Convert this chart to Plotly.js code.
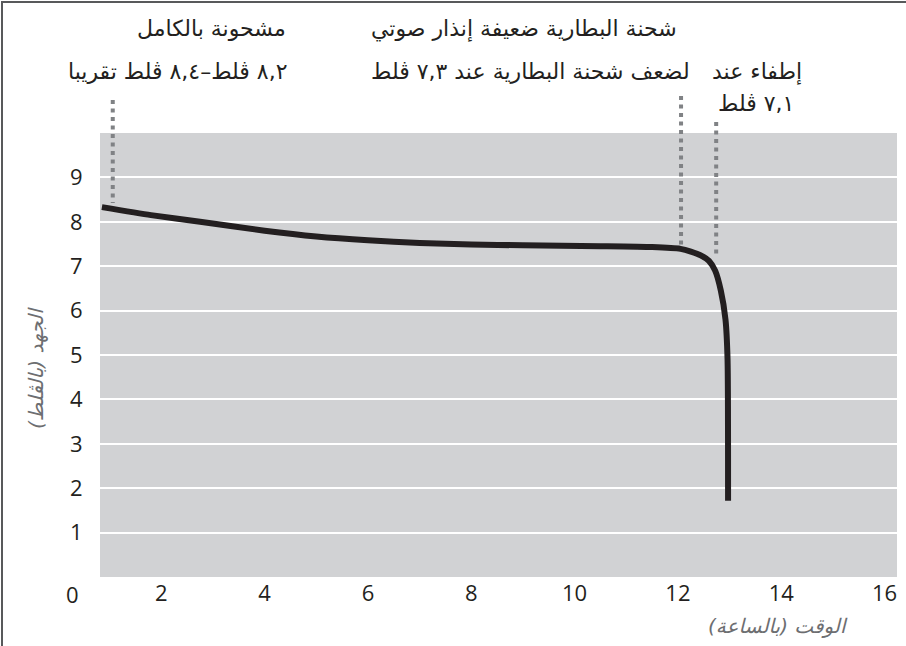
<!DOCTYPE html>
<html>
<head>
<meta charset="utf-8">
<script src="https://cdn.plot.ly/plotly-3.0.1.min.js"></script>
<style>html,body{margin:0;padding:0;background:#fff;}#chart{width:906px;height:646px;}</style>
</head>
<body>
<div id="chart"></div>
<script>
// ---- data ----
const timeHours = [0.85, 1.8, 2.75, 4.0, 5.0, 6.0, 7.0, 8.0, 9.0, 10.5, 11.5, 12.05, 12.25, 12.45, 12.6, 12.72, 12.83, 12.92, 12.96, 12.97];
const voltage   = [8.33, 8.15, 8.0, 7.8, 7.67, 7.585, 7.525, 7.49, 7.47, 7.45, 7.43, 7.39, 7.33, 7.24, 7.12, 6.9, 6.45, 5.8, 4.9, 1.72];
const xTickVals = [2, 4, 6, 8, 10, 12, 14, 16];
const xTickText = ['2', '4', '6', '8', '10', '12', '14', '16'];
const yTickVals = [1, 2, 3, 4, 5, 6, 7, 8, 9];
const yTickText = ['1', '2', '3', '4', '5', '6', '7', '8', '9'];
const originLabel = '0';
const xTitle = 'الوقت (بالساعة)';
const yTitle = 'الجهد (بالڤلط)';
const fullLine1 = 'مشحونة بالكامل';
const fullLine2 = '٨,٢ ڤلط–٨,٤ ڤلط تقريبا';
const lowLine1 = 'شحنة البطارية ضعيفة إنذار صوتي';
const lowLine2 = 'لضعف شحنة البطارية عند ٧,٣ ڤلط';
const offLine1 = 'إطفاء عند';
const offLine2 = '٧,١ ڤلط';
const fullAt = 1.06, lowAt = 12.06, offAt = 12.74;

// ---- layout helpers ----
const L = 100, R = 897, T = 133, B = 577;
const px = x => (x - L) / (R - L);
const py = y => (B - y) / (B - T);
const ink = '#231f20';
const arFont = {family: 'DejaVu Sans', size: 22, color: ink};

const trace = {
  x: timeHours, y: voltage, type: 'scatter', mode: 'lines',
  line: {color: ink, width: 6, shape: 'spline', smoothing: 0.6},
  hoverinfo: 'skip'
};

function textAnn(text, x, y, xanchor, font, extra) {
  return Object.assign({text: text, xref: 'paper', yref: 'paper', x: px(x), y: py(y),
    xanchor: xanchor, yanchor: 'middle', showarrow: false, font: font}, extra || {});
}

const annotations = [
  textAnn(fullLine1, 288, 29, 'right', arFont),
  textAnn(fullLine2, 290, 72, 'right', arFont),
  textAnn(lowLine1, 524, 29, 'center', arFont),
  textAnn(lowLine2, 530, 72, 'center', arFont),
  textAnn(offLine1, 710, 72, 'left', arFont),
  textAnn(offLine2, 716, 104, 'left', arFont),
  textAnn(originLabel, 72, 594, 'center', {family: 'Open Sans', size: 22, color: ink}),
  textAnn(xTitle, 778, 626, 'center', {family: 'DejaVu Sans', size: 20, color: '#6d6e71', style: 'italic'}),
  textAnn(yTitle, 36, 368, 'center', {family: 'DejaVu Sans', size: 20, color: '#6d6e71', style: 'italic'}, {textangle: -90})
];

function dots(xData, yTopPx, yBotPx) {
  return {type: 'line', xref: 'x', yref: 'paper', x0: xData, x1: xData, y0: py(yTopPx), y1: py(yBotPx),
    line: {color: '#808285', width: 4, dash: '4px,4.5px'}, layer: 'above'};
}

const shapes = [
  dots(fullAt, 100, 203),
  dots(lowAt, 96, 245),
  dots(offAt, 122, 258),
  {type: 'path', xref: 'paper', yref: 'paper',
   path: 'M ' + px(2) + ' ' + py(646) + ' L ' + px(2) + ' ' + py(2) + ' L ' + px(906) + ' ' + py(2),
   line: {color: '#58595b', width: 2}}
];

const layout = {
  width: 906, height: 646,
  margin: {l: L, r: 906 - R, t: T, b: 646 - B, pad: 0},
  paper_bgcolor: '#ffffff', plot_bgcolor: '#d1d2d4',
  showlegend: false,
  font: {family: 'Open Sans', color: ink},
  xaxis: {range: [0.813, 16.24], tickvals: xTickVals, ticktext: xTickText, showgrid: false,
    zeroline: false, showline: false, ticks: '', ticklabelstandoff: 1,
    tickfont: {family: 'Open Sans', size: 22, color: ink}, fixedrange: true},
  yaxis: {range: [0, 10], tickvals: yTickVals, ticktext: yTickText, showgrid: true,
    gridcolor: '#ffffff', gridwidth: 2, zeroline: false, showline: false,
    ticks: 'outside', ticklen: 12, tickcolor: 'rgba(0,0,0,0)',
    tickfont: {family: 'Open Sans', size: 22, color: ink}, fixedrange: true},
  annotations: annotations,
  shapes: shapes
};

Plotly.newPlot('chart', [trace], layout, {displayModeBar: false, staticPlot: true});
</script>
</body>
</html>
